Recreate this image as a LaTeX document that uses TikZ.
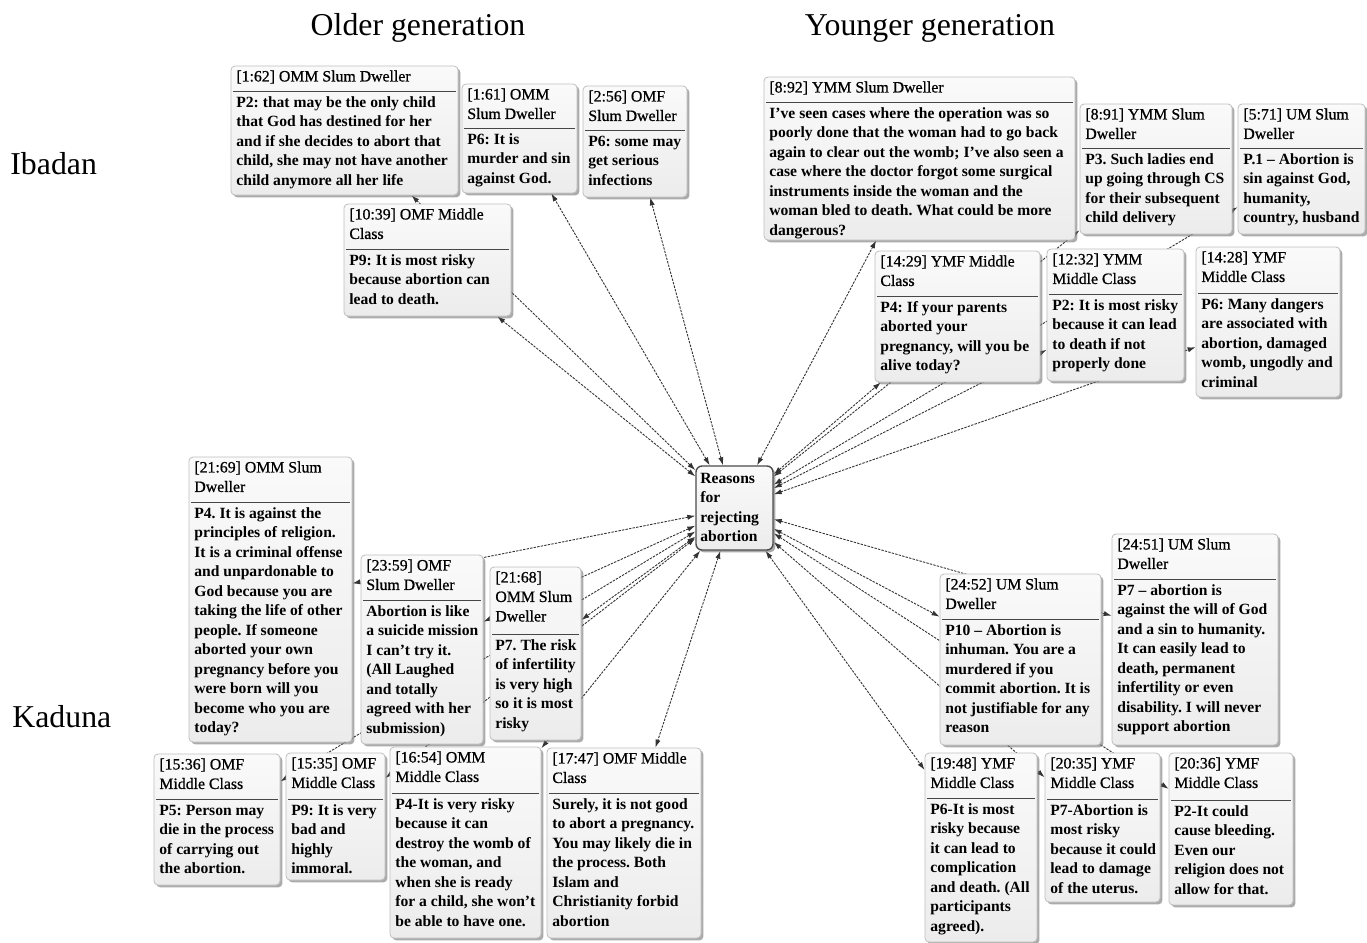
\documentclass[tikz,border=0pt]{standalone}
\usepackage{fontspec}
\setmainfont{Liberation Serif}
\newfontfamily\headfont[FakeBold=0.7]{Liberation Serif}
\usetikzlibrary{arrows.meta,shadows,fit}
\pgfdeclarelayer{backdrop}
\pgfdeclarelayer{links}
\pgfsetlayers{backdrop,links,main}
\tikzset{
  qbox/.style={rectangle, rounded corners=2pt, draw=gray!50, top color=gray!4, bottom color=gray!15,
    inner sep=0pt, drop shadow={shadow xshift=1.2pt, shadow yshift=-1.2pt, opacity=0.6, fill=black!55}},
  ctrbox/.style={qbox, draw=black!70, line width=0.7pt, rounded corners=3pt},
  qsep/.style={draw=gray!55!black, line width=0.5pt},
  qhead/.style={anchor=north west, inner sep=0pt, align=left, font=\headfont\fontsize{7.9}{9.75}\selectfont\frenchspacing},
  qbody/.style={anchor=north west, inner sep=0pt, align=left, font=\fontsize{7.8}{9.75}\selectfont\bfseries\frenchspacing},
  heading/.style={inner sep=0pt, font=\fontsize{15.9}{19}\selectfont},
  conn/.style={draw=black!80, line width=0.45pt, dash pattern=on 1.2pt off 0.6pt,
    {Latex[length=4pt,width=2.6pt]}-{Latex[length=4pt,width=2.6pt]}},
}
% quotation box: name, left, top, right, bottom, separator y, header, body
\newcommand\qbox[8]{%
  \node[qbox, fit={(#2,#3) (#4,#5)}] (#1) {};
  \draw[qsep] (#2+2,#6) -- (#4-2,#6);
  \node[qhead] (#1h) at (#2+5,#3+1.4) {\strut#7};
  \node[qbody] (#1t) at (#2+5,#6+2.4) {\strut#8};
}
\begin{document}
\begin{tikzpicture}[x=0.5pt,y=-0.5pt]
\useasboundingbox (0,0) rectangle (1367,943);
\begin{pgfonlayer}{backdrop}
\fill[white] (0,0) rectangle (1367,943);
\end{pgfonlayer}

% headings
\node[heading, anchor=base] (tOld) at (418,35) {Older generation};
\node[heading, anchor=base] (tYoung) at (930,35) {Younger generation};
\node[heading, anchor=base west] (tIb) at (10,174) {Ibadan};
\node[heading, anchor=base west] (tKa) at (12,727) {Kaduna};

% central code
\node[ctrbox, fit={(696,466) (773,550)}] (ctr) {};
\node[qbody] (ctrt) at (700,469.4) {\strut Reasons\\for\\rejecting\\abortion};

% Ibadan, older generation
\qbox{b162}{231}{66}{458}{195}{91}{[1:62] OMM Slum Dweller}
  {P2: that may be the only child\\that God has destined for her\\and if she decides to abort that\\child, she may not have another\\child anymore all her life}
\qbox{b161}{462}{84}{577}{193}{128}{[1:61] OMM\\Slum Dweller}
  {P6: It is\\murder and sin\\against God.}
\qbox{b256}{583}{86}{687}{197}{130}{[2:56] OMF\\Slum Dweller}
  {P6: some may\\get serious\\infections}
\qbox{b1039}{344}{204}{511}{316}{249}{[10:39] OMF Middle\\Class}
  {P9: It is most risky\\because abortion can\\lead to death.}

% Ibadan, younger generation
\qbox{b892}{764}{77}{1075}{240}{102}{[8:92] YMM Slum Dweller}
  {I’ve seen cases where the operation was so\\poorly done that the woman had to go back\\again to clear out the womb; I’ve also seen a\\case where the doctor forgot some surgical\\instruments inside the woman and the\\woman bled to death. What could be more\\dangerous?}
\qbox{b891}{1080}{104}{1232}{234}{148}{[8:91] YMM Slum\\Dweller}
  {P3. Such ladies end\\up going through CS\\for their subsequent\\child delivery}
\qbox{b571}{1238}{104}{1365}{234}{148}{[5:71] UM Slum\\Dweller}
  {P.1 – Abortion is\\sin against God,\\humanity,\\country, husband}
\qbox{b1429}{875}{251}{1040}{382}{296}{[14:29] YMF Middle\\Class}
  {P4: If your parents\\aborted your\\pregnancy, will you be\\alive today?}
\qbox{b1232}{1047}{249}{1184}{381}{294}{[12:32] YMM\\Middle Class}
  {P2: It is most risky\\because it can lead\\to death if not\\properly done}
\qbox{b1428}{1196}{247}{1340}{397}{293}{[14:28] YMF\\Middle Class}
  {P6: Many dangers\\are associated with\\abortion, damaged\\womb, ungodly and\\criminal}

% Kaduna, older generation
\qbox{b2169}{189}{457}{352}{742}{502}{[21:69] OMM Slum\\Dweller}
  {P4. It is against the\\principles of religion.\\It is a criminal offense\\and unpardonable to\\God because you are\\taking the life of other\\people. If someone\\aborted your own\\pregnancy before you\\were born will you\\become who you are\\today?}
\qbox{b2359}{361}{555}{483}{744}{600}{[23:59] OMF\\Slum Dweller}
  {Abortion is like\\a suicide mission\\I can’t try it.\\(All Laughed\\and totally\\agreed with her\\submission)}
\qbox{b2168}{490}{567}{581}{740}{634}{[21:68]\\OMM Slum\\Dweller}
  {P7. The risk\\of infertility\\is very high\\so it is most\\risky}
\qbox{b1536}{154}{754}{280}{885}{799}{[15:36] OMF\\Middle Class}
  {P5: Person may\\die in the process\\of carrying out\\the abortion.}
\qbox{b1535}{286}{753}{385}{880}{799}{[15:35] OMF\\Middle Class}
  {P9: It is very\\bad and\\highly\\immoral.}
\qbox{b1654}{390}{747}{541}{938}{793}{[16:54] OMM\\Middle Class}
  {P4-It is very risky\\because it can\\destroy the womb of\\the woman, and\\when she is ready\\for a child, she won’t\\be able to have one.}
\qbox{b1747}{547}{748}{701}{938}{793}{[17:47] OMF Middle\\Class}
  {Surely, it is not good\\to abort a pregnancy.\\You may likely die in\\the process. Both\\Islam and\\Christianity forbid\\abortion}

% Kaduna, younger generation
\qbox{b2452}{940}{574}{1101}{745}{619}{[24:52] UM Slum\\Dweller}
  {P10 – Abortion is\\inhuman. You are a\\murdered if you\\commit abortion. It is\\not justifiable for any\\reason}
\qbox{b2451}{1112}{534}{1278}{745}{579}{[24:51] UM Slum\\Dweller}
  {P7 – abortion is\\against the will of God\\and a sin to humanity.\\It can easily lead to\\death, permanent\\infertility or even\\disability. I will never\\support abortion}
\qbox{b1948}{925}{753}{1037}{942}{798}{[19:48] YMF\\Middle Class}
  {P6-It is most\\risky because\\it can lead to\\complication\\and death. (All\\participants\\agreed).}
\qbox{b2035}{1045}{753}{1160}{902}{799}{[20:35] YMF\\Middle Class}
  {P7-Abortion is\\most risky\\because it could\\lead to damage\\of the uterus.}
\qbox{b2036}{1169}{753}{1293}{905}{800}{[20:36] YMF\\Middle Class}
  {P2-It could\\cause bleeding.\\Even our\\religion does not\\allow for that.}

% links from the central code, running underneath the boxes
\begin{pgfonlayer}{links}
\foreach \b in {b162,b161,b256,b1039,b892,b891,b571,b1429,b1232,b1428,
                b2169,b2359,b2168,b1536,b1535,b1654,b1747,b2452,b2451,b1948,b2035,b2036}
  \draw[conn] (ctr) -- (\b);
\end{pgfonlayer}
\end{tikzpicture}
\end{document}
